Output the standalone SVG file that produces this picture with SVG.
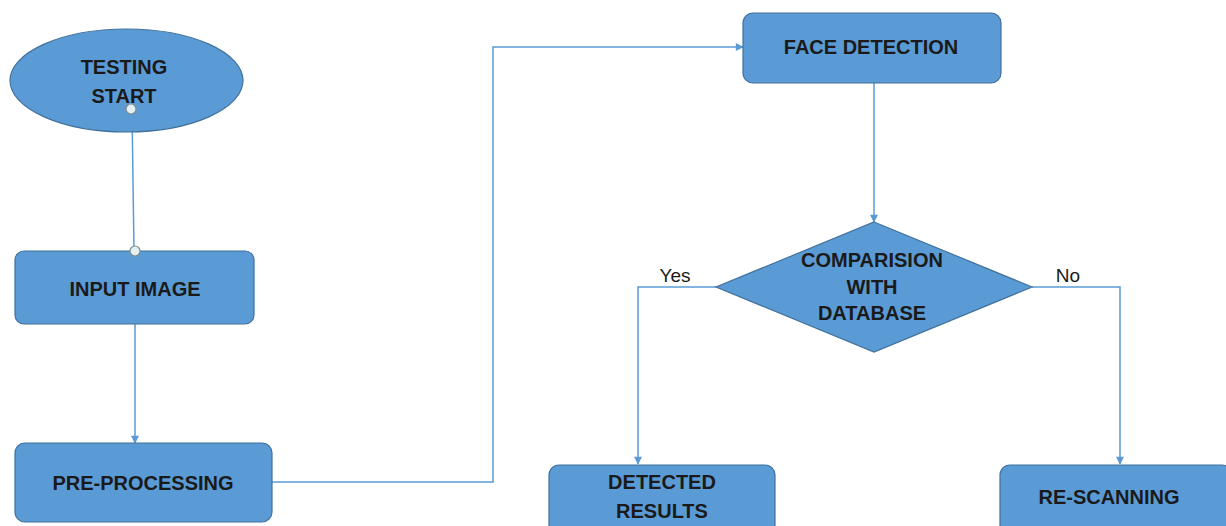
<svg xmlns="http://www.w3.org/2000/svg" width="1226" height="526" viewBox="0 0 1226 526">
  <style>
    .shape { fill: #5b9bd5; stroke: #41719c; stroke-width: 1.2; }
    .label { font-family: "Liberation Sans", Arial, sans-serif; font-weight: bold; font-size: 20px; fill: #1a1a1a; text-anchor: middle; }
    .branch { font-family: "Liberation Sans", Arial, sans-serif; font-size: 19px; fill: #1a1a1a; text-anchor: middle; }
    .wire { fill: none; stroke: #5b9bd5; stroke-width: 1.5; }
    .pin { fill: #e4f1f2; stroke: #7f8c8d; stroke-width: 1.2; }
  </style>
  <defs>
    <marker id="arrow" viewBox="0 0 10 10" refX="9" refY="5" markerWidth="9" markerHeight="8" markerUnits="userSpaceOnUse" orient="auto">
      <path d="M0,0 L10,5 L0,10 z" fill="#5b9bd5"/>
    </marker>
  </defs>
  <rect width="1226" height="526" fill="#ffffff"/>

  <g id="connectors">
    <path class="wire" d="M132,110 L134,251"/>
    <path class="wire" d="M135,324 L135,443" marker-end="url(#arrow)"/>
    <path class="wire" d="M272,482 L493,482 L493,47 L743,47" marker-end="url(#arrow)"/>
    <path class="wire" d="M874,83 L874,222" marker-end="url(#arrow)"/>
    <path class="wire" d="M716,287 L638,287 L638,464" marker-end="url(#arrow)"/>
    <path class="wire" d="M1032,287 L1120,287 L1120,464" marker-end="url(#arrow)"/>
  </g>

  <g id="testing-start">
    <ellipse class="shape" cx="126.5" cy="80.5" rx="116.5" ry="51.5"/>
    <text class="label" x="124" y="74">TESTING</text>
    <text class="label" x="124" y="103">START</text>
    <circle class="pin" cx="131" cy="109" r="5"/>
  </g>

  <g id="input-image">
    <rect class="shape" x="15" y="251" width="239" height="73" rx="9"/>
    <text class="label" x="135" y="296">INPUT IMAGE</text>
    <circle class="pin" cx="135" cy="251" r="5"/>
  </g>

  <g id="pre-processing">
    <rect class="shape" x="15" y="443" width="257" height="79" rx="10"/>
    <text class="label" x="143" y="490">PRE-PROCESSING</text>
  </g>

  <g id="face-detection">
    <rect class="shape" x="743" y="13" width="258" height="70" rx="10"/>
    <text class="label" x="871" y="54">FACE DETECTION</text>
  </g>

  <g id="comparison">
    <polygon class="shape" points="874,222 1032,287 874,352 716,287"/>
    <text class="label" x="872" y="267">COMPARISION</text>
    <text class="label" x="872" y="294">WITH</text>
    <text class="label" x="872" y="320">DATABASE</text>
  </g>

  <g id="branch-labels">
    <text class="branch" x="675" y="282">Yes</text>
    <text class="branch" x="1068" y="282">No</text>
  </g>

  <g id="detected-results">
    <rect class="shape" x="549" y="465" width="226" height="75" rx="10"/>
    <text class="label" x="662" y="489">DETECTED</text>
    <text class="label" x="662" y="518">RESULTS</text>
  </g>

  <g id="re-scanning">
    <rect class="shape" x="1000" y="465" width="232" height="75" rx="10"/>
    <text class="label" x="1109" y="504">RE-SCANNING</text>
  </g>
</svg>
